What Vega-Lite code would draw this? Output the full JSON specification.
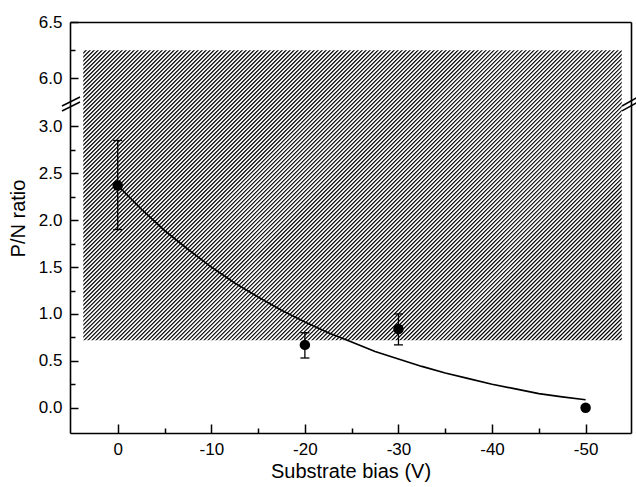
{
  "$schema": "https://vega.github.io/schema/vega-lite/v6.json",
  "width": 561,
  "height": 411,
  "autosize": "none",
  "padding": {"left": 70, "top": 22, "right": 5, "bottom": 54},
  "background": "white",
  "config": {
    "view": {"stroke": null},
    "font": "Liberation Sans",
    "axis": {
      "grid": false,
      "domainColor": "black",
      "domainWidth": 1.6,
      "tickColor": "black",
      "tickWidth": 1.5,
      "labelColor": "black",
      "labelFont": "Liberation Sans",
      "labelFontSize": 17,
      "titleColor": "black",
      "titleFont": "Liberation Sans",
      "titleFontSize": 20,
      "titleFontWeight": "normal"
    }
  },
  "datasets": {
    "points": [
      {"bias": 0, "ratio": 2.37, "lo": 1.90, "hi": 2.85},
      {"bias": -20, "ratio": 0.67, "lo": 0.53, "hi": 0.80},
      {"bias": -30, "ratio": 0.84, "lo": 0.67, "hi": 1.00},
      {"bias": -50, "ratio": 0.0, "lo": null, "hi": null}
    ],
    "fit": [
      {"bias": 0, "ratio": 2.37},
      {"bias": -2.5, "ratio": 2.12},
      {"bias": -5, "ratio": 1.89},
      {"bias": -7.5, "ratio": 1.69},
      {"bias": -10, "ratio": 1.50},
      {"bias": -12.5, "ratio": 1.33},
      {"bias": -15, "ratio": 1.18},
      {"bias": -17.5, "ratio": 1.04},
      {"bias": -20, "ratio": 0.915},
      {"bias": -22.5, "ratio": 0.80},
      {"bias": -25, "ratio": 0.70},
      {"bias": -27.5, "ratio": 0.60},
      {"bias": -30, "ratio": 0.52},
      {"bias": -32.5, "ratio": 0.44},
      {"bias": -35, "ratio": 0.37},
      {"bias": -37.5, "ratio": 0.31},
      {"bias": -40, "ratio": 0.25},
      {"bias": -42.5, "ratio": 0.20},
      {"bias": -45, "ratio": 0.15},
      {"bias": -47.5, "ratio": 0.115},
      {"bias": -50, "ratio": 0.085}
    ],
    "hatch": [
      {"xa": -2.423, "ya": 6.846, "xb": -47.75, "yb": 0.0047}
    ],
    "mask": [
      {"x1": 5.1, "x2": 3.68, "y1": -0.27, "y2": 6.5},
      {"x1": -53.86, "x2": -54.85, "y1": -0.27, "y2": 6.5},
      {"x1": 5.1, "x2": -54.85, "y1": 6.25, "y2": 6.5},
      {"x1": 5.1, "x2": -54.85, "y1": -0.27, "y2": 0.72}
    ],
    "breaks": [
      {"x1": 5.955, "y1": 3.165, "x2": 4.031, "y2": 5.789},
      {"x1": 5.955, "y1": 3.218, "x2": 4.031, "y2": 5.833},
      {"x1": -53.887, "y1": 3.165, "x2": -55.596, "y2": 5.789},
      {"x1": -53.887, "y1": 3.218, "x2": -55.596, "y2": 5.833}
    ]
  },
  "resolve": {"axis": {"x": "independent", "y": "independent"}},
  "layer": [
    {
      "data": {"name": "hatch"},
      "mark": {"type": "rule", "clip": true, "color": "black", "strokeWidth": 600, "strokeDash": [1.2, 1.628], "strokeCap": "butt"},
      "encoding": {
        "x": {
          "field": "xa", "type": "quantitative",
          "scale": {"domain": [-54.85, 5.1], "reverse": true, "nice": false, "zero": false},
          "axis": {
            "orient": "bottom",
            "zindex": 2,
            "values": [0, -10, -20, -30, -40, -50],
            "tickSize": -9,
            "labelPadding": 17,
            "labelExpr": "toString(datum.value)",
            "title": "Substrate bias (V)",
            "titleBaseline": "alphabetic",
            "titleY": 44
          }
        },
        "x2": {"field": "xb"},
        "y": {
          "field": "ya", "type": "quantitative",
          "scale": {"domain": [-0.27, 3.25, 5.78, 6.5], "range": [411, 81, 81, 0], "nice": false, "zero": false},
          "axis": {
            "orient": "left",
            "zindex": 2,
            "values": [0, 0.5, 1, 1.5, 2, 2.5, 3, 6, 6.5],
            "format": ".1f",
            "tickSize": -8,
            "labelPadding": 16,
            "title": "P/N ratio",
            "titleAngle": -90,
            "titleBaseline": "alphabetic",
            "titleX": -46,
            "titleY": 196
          }
        },
        "y2": {"field": "yb"}
      }
    },
    {
      "data": {"name": "mask"},
      "mark": {"type": "rect", "fill": "white", "stroke": null},
      "encoding": {
        "x": {"field": "x1", "type": "quantitative",
          "axis": {"orient": "bottom", "zindex": 2, "values": [-5, -15, -25, -35, -45], "tickSize": -5, "labels": false, "domain": false, "title": null}},
        "x2": {"field": "x2"},
        "y": {"field": "y1", "type": "quantitative",
          "axis": {"orient": "left", "zindex": 2, "values": [0.25, 0.75, 1.25, 1.75, 2.25, 2.75, 6.25], "tickSize": -5, "labels": false, "domain": false, "title": null}},
        "y2": {"field": "y2"}
      }
    },
    {
      "data": {"name": "fit"},
      "mark": {"type": "line", "color": "black", "strokeWidth": 1.7},
      "encoding": {
        "x": {"field": "bias", "type": "quantitative",
          "axis": {"orient": "top", "zindex": 2, "ticks": false, "labels": false, "domain": true, "title": null}},
        "y": {"field": "ratio", "type": "quantitative",
          "axis": {"orient": "right", "zindex": 2, "ticks": false, "labels": false, "domain": true, "title": null}}
      }
    },
    {
      "data": {"name": "points"},
      "mark": {"type": "rule", "color": "black", "strokeWidth": 1.3},
      "encoding": {
        "x": {"field": "bias", "type": "quantitative", "axis": null},
        "y": {"field": "lo", "type": "quantitative", "axis": null},
        "y2": {"field": "hi"}
      }
    },
    {
      "data": {"name": "points"},
      "mark": {"type": "tick", "orient": "horizontal", "color": "black", "size": 9, "thickness": 1.3, "opacity": 1},
      "encoding": {
        "x": {"field": "bias", "type": "quantitative", "axis": null},
        "y": {"field": "lo", "type": "quantitative", "axis": null}
      }
    },
    {
      "data": {"name": "points"},
      "mark": {"type": "tick", "orient": "horizontal", "color": "black", "size": 9, "thickness": 1.3, "opacity": 1},
      "encoding": {
        "x": {"field": "bias", "type": "quantitative", "axis": null},
        "y": {"field": "hi", "type": "quantitative", "axis": null}
      }
    },
    {
      "data": {"name": "points"},
      "mark": {"type": "point", "shape": "circle", "filled": true, "color": "black", "opacity": 1, "size": 110},
      "encoding": {
        "x": {"field": "bias", "type": "quantitative", "axis": null},
        "y": {"field": "ratio", "type": "quantitative", "axis": null}
      }
    },
    {
      "data": {"name": "breaks"},
      "mark": {"type": "rule", "color": "black", "strokeWidth": 1.5, "clip": false},
      "encoding": {
        "x": {"field": "x1", "type": "quantitative", "axis": null},
        "x2": {"field": "x2"},
        "y": {"field": "y1", "type": "quantitative", "axis": null},
        "y2": {"field": "y2"}
      }
    }
  ]
}
